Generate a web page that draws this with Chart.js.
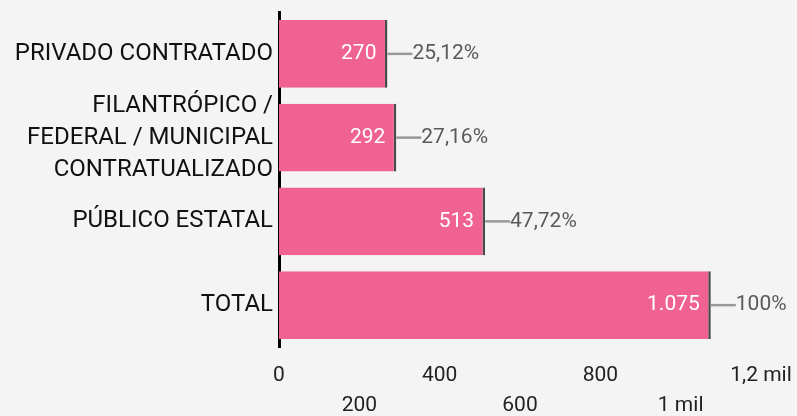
<!DOCTYPE html>
<html>
<head>
<meta charset="utf-8">
<script src="https://cdn.jsdelivr.net/npm/chart.js@4"></script>
<style>
html,body{margin:0;padding:0;background:#f4f4f4;}
#wrap{width:797px;height:416px;position:relative;}
</style>
</head>
<body>
<div id="wrap"><canvas id="barChart"></canvas></div>
<script>
const categories = [
  ['PRIVADO CONTRATADO'],
  ['FILANTRÓPICO /', 'FEDERAL / MUNICIPAL', 'CONTRATUALIZADO'],
  ['PÚBLICO ESTATAL'],
  ['TOTAL']
]
const values = [270, 292, 513, 1075]
const valueLabels = ['270', '292', '513', '1.075']
const pctLabels = ['25,12%', '27,16%', '47,72%', '100%']
const tickValues = [0, 200, 400, 600, 800, 1000, 1200]
const tickLabels = ['0', '200', '400', '600', '800', '1 mil', '1,2 mil']

// value inside the bar, connector and percentage outside
const barLabels = {
  id: 'barLabels',
  afterDatasetsDraw(chart) {
    const ctx = chart.ctx
    const meta = chart.getDatasetMeta(0)
    ctx.save()
    ctx.font = '21px Roboto'
    ctx.textBaseline = 'middle'
    meta.data.forEach((bar, i) => {
      ctx.fillStyle = '#ffffff'
      ctx.textAlign = 'right'
      ctx.fillText(valueLabels[i], bar.x - 11, bar.y)
      ctx.strokeStyle = '#999999'
      ctx.lineWidth = 2.5
      ctx.beginPath()
      ctx.moveTo(bar.x, bar.y)
      ctx.lineTo(bar.x + 25, bar.y)
      ctx.stroke()
      ctx.fillStyle = '#5a5a5a'
      ctx.textAlign = 'left'
      ctx.fillText(pctLabels[i], bar.x + 25, bar.y)
    })
    ctx.restore()
  }
}

new Chart(document.getElementById('barChart'), {
  type: 'bar',
  data: {
    labels: categories,
    datasets: [{
      data: values,
      backgroundColor: '#f06292',
      borderColor: '#4a4a4a',
      borderWidth: {top: 0, right: 2.5, bottom: 0, left: 0},
      borderSkipped: false,
      categoryPercentage: 1,
      barPercentage: 0.81
    }]
  },
  options: {
    indexAxis: 'y',
    responsive: true,
    maintainAspectRatio: false,
    animation: false,
    layout: {padding: {top: 12, left: 0, right: 0, bottom: 0}},
    plugins: {legend: {display: false}, tooltip: {enabled: false}},
    scales: {
      x: {
        min: 0,
        max: 1200,
        afterBuildTicks: (scale) => { scale.ticks = tickValues.map(v => ({value: v})) },
        afterFit: (scale) => {
          scale.height = 69
          scale.paddingLeft = 0
          scale.paddingRight = 36
        },
        grid: {display: false, drawTicks: false},
        border: {display: false},
        ticks: {
          color: '#222',
          font: {family: 'Roboto', size: 21, lineHeight: 1.43},
          padding: 14,
          maxRotation: 0,
          autoSkip: false,
          callback: (v, i) => i % 2 ? ['', tickLabels[i]] : tickLabels[i]
        }
      },
      y: {
        z: 1,
        afterFit: (scale) => {
          scale.width = 279
          scale.paddingTop = 0
          scale.paddingBottom = 0
        },
        grid: {display: false, drawTicks: false},
        border: {display: true, color: '#000', width: 3},
        ticks: {
          color: '#111',
          autoSkip: false,
          font: {family: 'Roboto', size: 24, lineHeight: 1.333},
          padding: 6
        }
      }
    }
  },
  plugins: [barLabels]
})
</script>
</body>
</html>
